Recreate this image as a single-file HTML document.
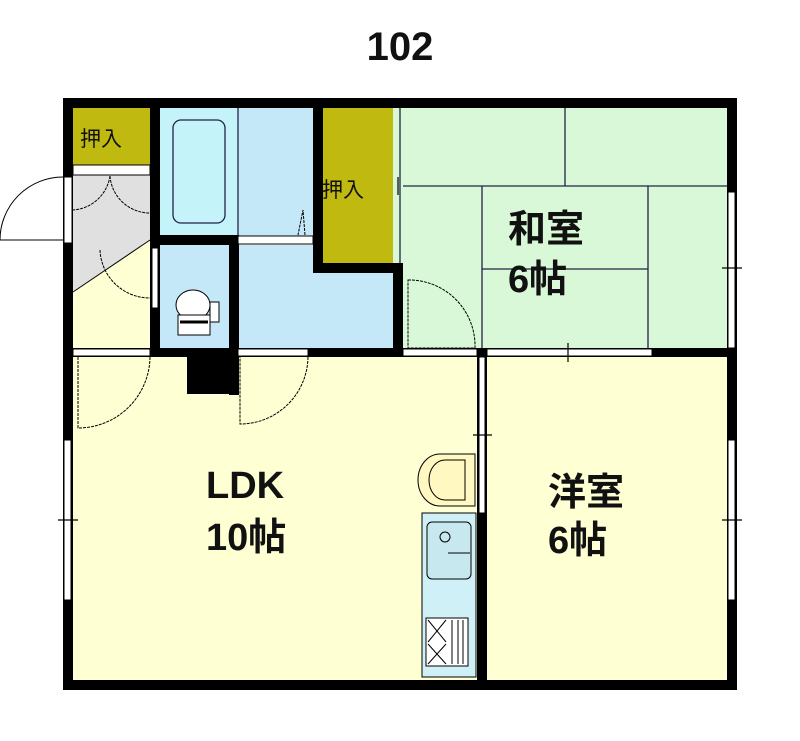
<!DOCTYPE html>
<html><head><meta charset="utf-8"><style>html,body{margin:0;padding:0;background:#fff}svg{display:block}</style></head>
<body>
<svg width="800" height="741" viewBox="0 0 800 741" xmlns="http://www.w3.org/2000/svg" font-family="'Liberation Sans','Noto Sans CJK JP',sans-serif">
<rect width="800" height="741" fill="#fff"/>
<text x="400" y="60" font-size="40" font-weight="bold" text-anchor="middle" fill="#111">102</text>
<rect x="73" y="108" width="654" height="572" fill="#ffffd4"/>
<rect x="393" y="108" width="334" height="242" fill="#d8f8d8"/>
<rect x="73" y="108" width="77" height="57" fill="#c0ba10"/>
<polygon points="73,168 150,168 150,240 73,292" fill="#e0e0e0"/>
<rect x="160" y="108" width="78" height="127" fill="#c4f4fa"/>
<rect x="238" y="108" width="75" height="132" fill="#c4e8f8"/>
<rect x="238" y="245" width="155" height="103" fill="#c4e8f8"/>
<rect x="160" y="245" width="69" height="103" fill="#c4e8f8"/>
<rect x="323" y="108" width="70" height="155" fill="#c0ba10"/>
<g stroke="#224" stroke-width="1.3" fill="none">
<line x1="403" y1="186" x2="727" y2="186"/>
<line x1="565" y1="108" x2="565" y2="186"/>
<line x1="482" y1="186" x2="482" y2="350"/>
<line x1="648" y1="186" x2="648" y2="350"/>
<line x1="482" y1="269" x2="648" y2="269"/>
<line x1="400" y1="108" x2="400" y2="263"/>
<rect x="173" y="120" width="52" height="103" rx="8"/>
<line x1="238" y1="108" x2="238" y2="235"/>
</g>
<g fill="#000">
<rect x="63" y="98" width="674" height="10"/>
<rect x="63" y="680" width="674" height="10"/>
<rect x="63" y="98" width="10" height="592"/>
<rect x="727" y="98" width="10" height="592"/>
<rect x="150" y="98" width="10" height="259"/>
<rect x="150" y="235" width="88" height="10"/>
<rect x="229" y="235" width="10" height="160"/>
<rect x="187" y="348" width="52" height="46"/>
<rect x="313" y="98" width="10" height="175"/>
<rect x="313" y="263" width="90" height="10"/>
<rect x="393" y="263" width="10" height="94"/>
<rect x="150" y="348" width="253" height="9"/>
<rect x="63" y="348" width="674" height="9"/>
<rect x="477" y="348" width="10" height="332"/>
</g>
<g fill="#fff" stroke="#000" stroke-width="1">
<rect x="73" y="165" width="77" height="10"/>
<rect x="64" y="177" width="8" height="66"/>
<rect x="73" y="349" width="77" height="7"/>
<rect x="238" y="349" width="70" height="7"/>
<rect x="403" y="349" width="74" height="7"/>
<rect x="487" y="349" width="165" height="7"/>
<rect x="479" y="357" width="6" height="156"/>
<rect x="728" y="192" width="7" height="156"/>
<rect x="728" y="440" width="7" height="160"/>
<rect x="64" y="440" width="7" height="160"/>
<rect x="152" y="248" width="6" height="60"/>
<rect x="238" y="236" width="75" height="8"/>
</g>
<g stroke="#000" stroke-width="1.2">
<line x1="568" y1="343" x2="568" y2="362"/><line x1="722" y1="268" x2="742" y2="268"/>
<line x1="722" y1="520" x2="742" y2="520"/><line x1="58" y1="520" x2="78" y2="520"/>
<line x1="473" y1="435" x2="492" y2="435"/><line x1="398" y1="177" x2="398" y2="195"/>
</g>
<g stroke="#000" stroke-width="1" fill="none" stroke-dasharray="3,1">
<path d="M63,240 L0,240 M63,177 A63,63 0 0 0 0,240" stroke-dasharray="none"/>
<path d="M110,176 A40,40 0 0 1 73,210 M110,176 A40,40 0 0 0 150,213"/>
<path d="M150,240 L73,292" stroke-dasharray="none"/>
<path d="M100,250 A50,50 0 0 0 150,298"/>
<path d="M150,357 A72,72 0 0 1 78,428 L78,357"/>
<path d="M308,357 A68,68 0 0 1 240,424 L240,357"/>
<path d="M408,280 A66,66 0 0 1 475,348 L408,348 Z"/>
<path d="M305,235 L303,210 L298,235"/>
</g>
<g stroke="#000" stroke-width="1" fill="#fff">
<ellipse cx="193" cy="305" rx="17" ry="15"/>
<rect x="178" y="315" width="32" height="20"/>
<rect x="210" y="302" width="9" height="20"/>
<line x1="180" y1="322" x2="208" y2="322" stroke-width="3"/>
</g>
<g stroke="#000" stroke-width="1">
<rect x="422" y="513" width="54" height="164" fill="#d0f0f8"/>
<rect x="427" y="522" width="44" height="57" rx="5" fill="#c8e8f0"/>
<circle cx="445" cy="537" r="5" fill="none"/>
<line x1="448" y1="553" x2="470" y2="553"/>
<rect x="426" y="618" width="42" height="48" fill="#fff"/>
<path d="M428,620 L446,642 M446,620 L428,642 M428,644 L446,664 M446,644 L428,664 M452,620 V664 M458,620 V664 M463,620 V664" fill="none"/>
<path d="M475,454 L440,454 A22,26 0 0 0 440,506 L475,506 Z" fill="#fff8c0"/>
<path d="M465,460 L445,460 A16,20 0 0 0 445,500 L465,500 Z" fill="#fff8c0"/>
</g>
<g font-size="38" font-weight="bold" fill="#111">
<text x="508" y="242">和室</text><text x="508" y="292">6帖</text>
<text x="206" y="498">LDK</text><text x="206" y="550">10帖</text>
<text x="548" y="505">洋室</text><text x="548" y="553">6帖</text>
</g>
<g font-size="21" fill="#111">
<text x="80" y="146">押入</text><text x="322" y="197">押入</text>
</g>
</svg>
</body></html>
